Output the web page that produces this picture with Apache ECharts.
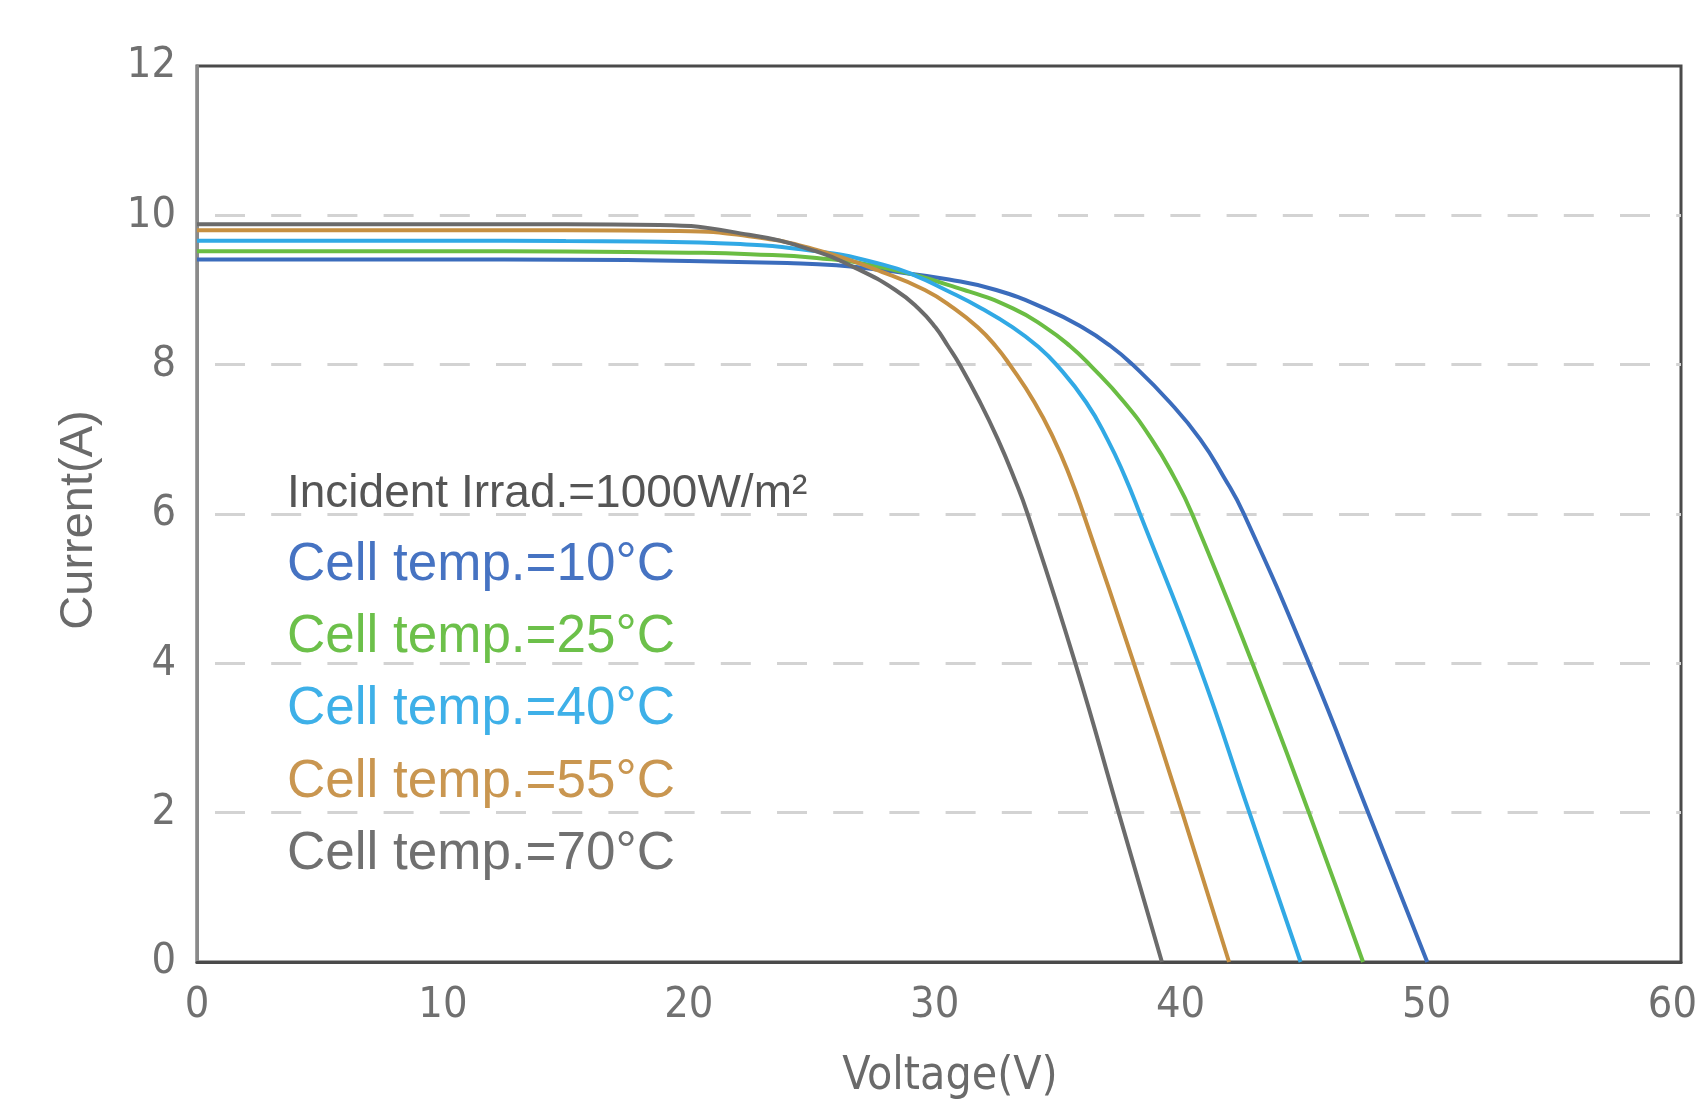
<!DOCTYPE html>
<html>
<head>
<meta charset="utf-8">
<style>
  html, body { margin: 0; padding: 0; background: #ffffff; }
  #chart { width: 1696px; height: 1103px; }
</style>
<script src="https://cdn.jsdelivr.net/npm/echarts@6/dist/echarts.min.js"></script>
</head>
<body>
<div id="chart"></div>
<script>
// I-V curves: [Voltage (V), Current (A)]
const curve10C = [[0,9.41],[5,9.41],[10,9.41],[15,9.405],[20,9.39],[24,9.36],[26,9.33],[28,9.26],[30.58,9.14],[32.5,9.0],[34.5,8.75],[36.0,8.5],[37.15,8.25],[38.05,8.0],[39.55,7.5],[40.8,7.0],[41.75,6.5],[42.575,6.0],[45.22,4.0],[47.63,2.0],[50.03,0]];
const curve25C = [[0,9.52],[5,9.52],[10,9.52],[15,9.515],[20,9.50],[22.5,9.48],[25.2,9.43],[27.9,9.30],[31.2,9.0],[33.2,8.75],[34.5,8.5],[35.5,8.25],[36.3,8.0],[37.7,7.5],[38.825,7.0],[39.725,6.5],[40.47,6.0],[42.92,4.0],[45.22,2.0],[47.42,0]];
const curve40C = [[0,9.66],[5,9.66],[10,9.66],[15,9.655],[18,9.65],[21,9.63],[25.2,9.52],[27.9,9.34],[29.23,9.19],[30.45,9.0],[31.925,8.75],[33.175,8.5],[34.175,8.25],[34.95,8.0],[36.15,7.5],[37.025,7.0],[37.735,6.5],[38.35,6.0],[40.72,4.0],[42.8,2.0],[44.88,0]];
const curve55C = [[0,9.80],[5,9.80],[10,9.80],[15,9.80],[19.5,9.79],[22.45,9.72],[25.16,9.54],[27.87,9.24],[29.6,9.0],[30.8,8.75],[31.75,8.5],[32.475,8.25],[33.05,8.0],[34.05,7.5],[34.85,7.0],[35.5,6.5],[36.05,6.0],[38.1,4.0],[40.07,2.0],[41.97,0]];
const curve70C = [[0,9.88],[5,9.88],[10,9.88],[15,9.88],[18.8,9.87],[22.45,9.74],[25.16,9.52],[26.75,9.3],[28.4,9.0],[29.35,8.75],[30.03,8.5],[30.54,8.25],[31.02,8.0],[31.84,7.5],[32.57,7.0],[33.21,6.5],[33.78,6.0],[35.72,4.0],[37.48,2.0],[39.24,0]];

const seriesNames = ['Cell temp.=10°C', 'Cell temp.=25°C', 'Cell temp.=40°C', 'Cell temp.=55°C', 'Cell temp.=70°C'];
const seriesData = [curve10C, curve25C, curve40C, curve55C, curve70C];
const lineColors = ['#3b6cbc', '#6abd43', '#31a9e5', '#c69042', '#6b6b6b'];
const textColors = ['#4673c2', '#6cc04a', '#3eb0e8', '#c99650', '#707070'];
const headerText = 'Incident Irrad.=1000W/m²';
const xAxisName = 'Voltage(V)';
const yAxisName = 'Current(A)';

const narrow = "'Liberation Sans Narrow', 'DejaVu Sans Condensed', 'Liberation Sans', sans-serif";
const regular = "'Liberation Sans', Arial, sans-serif";

const chart = echarts.init(document.getElementById('chart'), null, { renderer: 'canvas' });

chart.setOption({
  backgroundColor: '#ffffff',
  animation: false,
  title: {
    text: headerText,
    left: 287,
    top: 466,
    padding: 0,
    textStyle: { fontFamily: regular, fontSize: 46, fontWeight: 'normal', color: '#555555', lineHeight: 56 }
  },
  legend: {
    orient: 'vertical',
    left: 282,
    top: 535,
    padding: 0,
    icon: 'none',
    itemWidth: 0,
    itemHeight: 14,
    itemGap: 12.4,
    textStyle: { fontFamily: regular, fontSize: 53, lineHeight: 60 },
    data: seriesNames.map((n, i) => ({ name: n, textStyle: { color: textColors[i] } }))
  },
  grid: {
    show: true,
    left: 197,
    right: 15,
    top: 66,
    bottom: 141,
    containLabel: false,
    outerBoundsMode: 'none',
    borderColor: '#4a4a4a',
    borderWidth: 3,
    backgroundColor: 'transparent'
  },
  xAxis: {
    type: 'value',
    min: 0,
    max: 60.35,
    interval: 10,
    name: xAxisName,
    nameLocation: 'middle',
    nameGap: 92,
    nameTextStyle: { fontFamily: narrow, fontSize: 46, color: '#6a6a6a', padding: [0, 0, 0, 22] },
    axisLine: { show: true, lineStyle: { color: '#4a4a4a', width: 3 } },
    axisTick: { show: false },
    splitLine: { show: false },
    axisLabel: {
      fontFamily: narrow, fontSize: 43, color: '#707070', margin: 22,
      showMaxLabel: false,
      formatter: v => (Math.abs(v % 10) < 1e-9 ? String(v) : '')
    }
  },
  yAxis: {
    type: 'value',
    min: 0,
    max: 12,
    interval: 2,
    name: yAxisName,
    nameLocation: 'middle',
    nameGap: 94,
    nameTextStyle: { fontFamily: regular, fontSize: 47, color: '#6a6a6a', padding: [0, 12, 0, 0] },
    axisLine: { show: true, lineStyle: { color: '#8a8a8a', width: 3 } },
    axisTick: { show: false },
    axisLabel: { fontFamily: narrow, fontSize: 43, color: '#707070', margin: 21 },
    splitLine: {
      show: true,
      showMinLine: false,
      showMaxLine: false,
      lineStyle: { color: '#d3d3d3', width: 3, type: [30, 26.2], dashOffset: 38.2 }
    }
  },
  series: seriesNames.map((n, i) => ({
    name: n,
    type: 'line',
    data: seriesData[i],
    showSymbol: false,
    smooth: 0.5,
    lineStyle: { color: lineColors[i], width: 4 },
    itemStyle: { color: lineColors[i] },
    z: 3 + i
  }))
});
</script>
</body>
</html>
